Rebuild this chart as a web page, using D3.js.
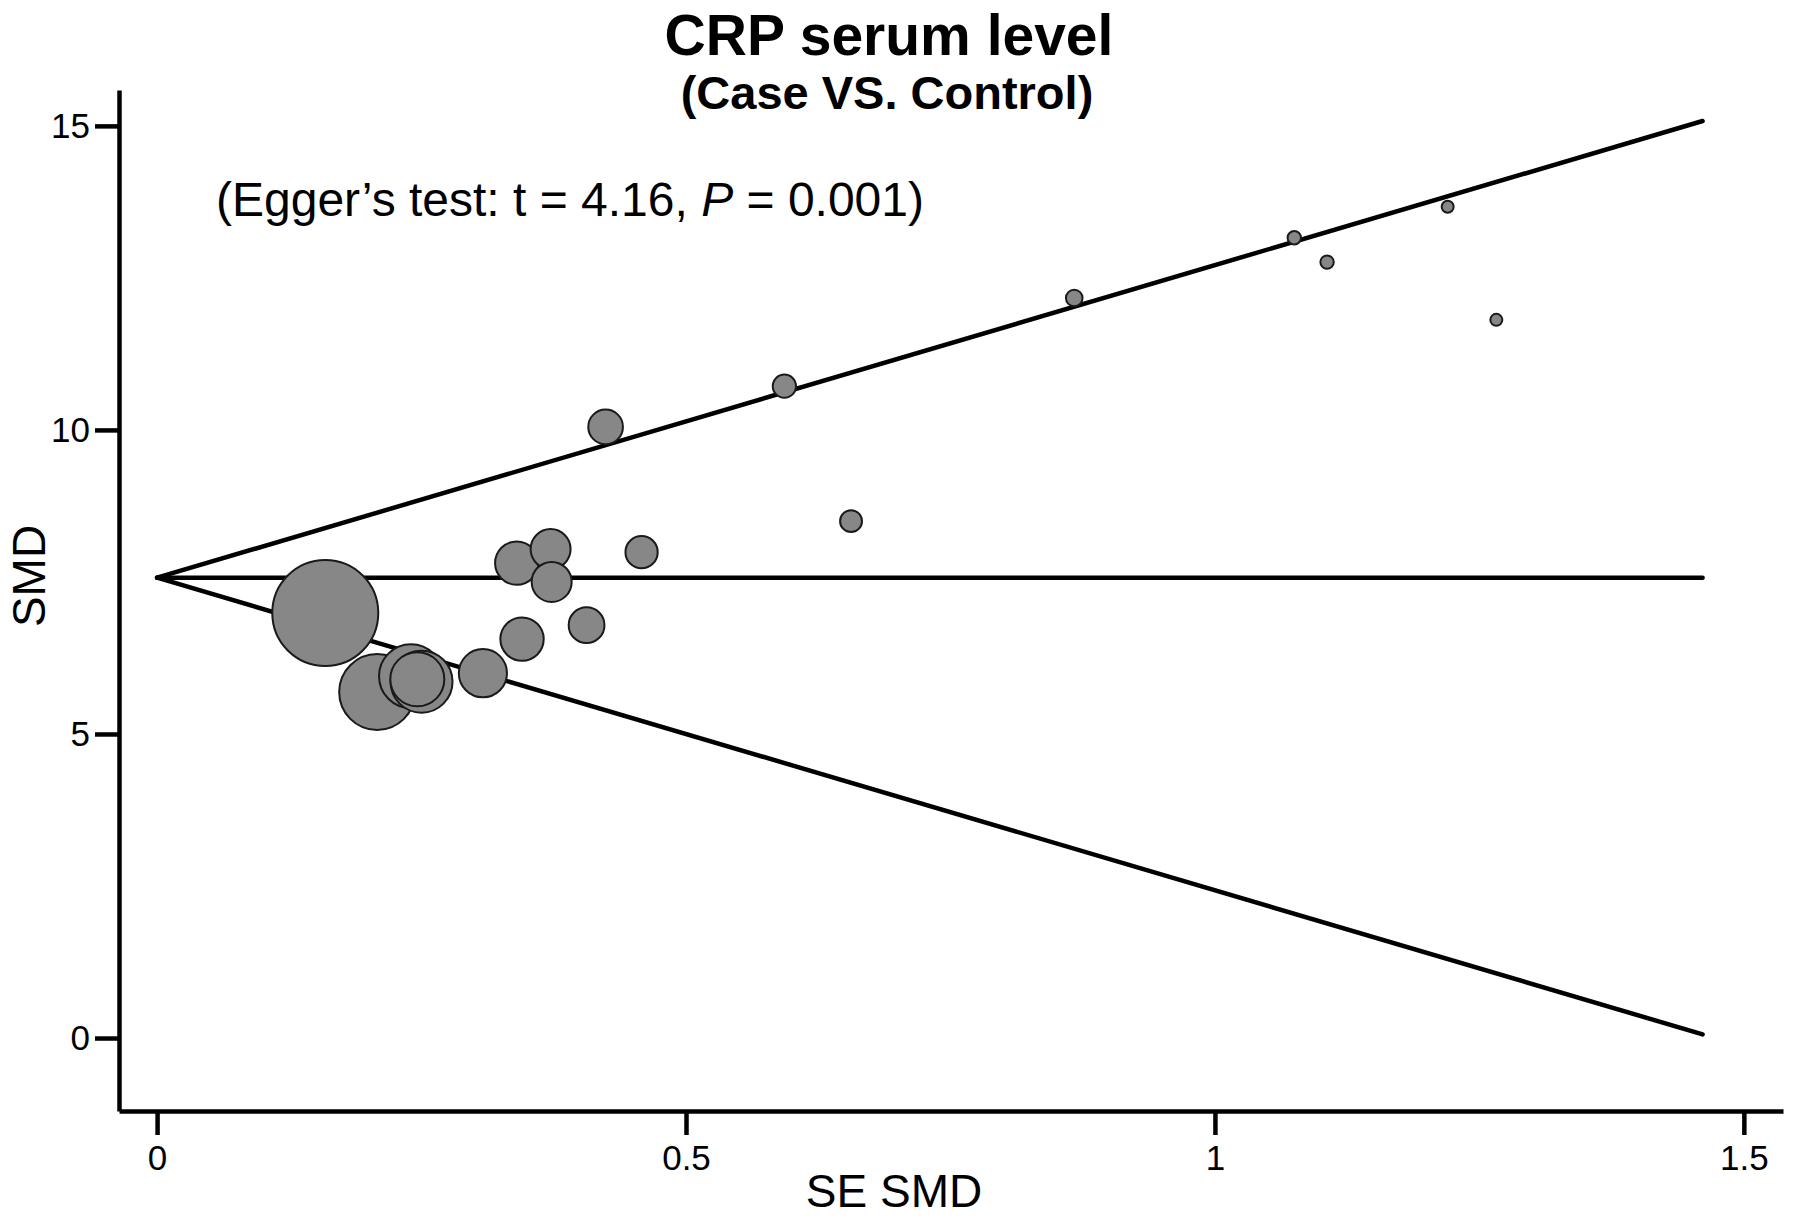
<!DOCTYPE html>
<html>
<head>
<meta charset="utf-8">
<script src="https://cdnjs.cloudflare.com/ajax/libs/d3/7.8.5/d3.min.js"></script>
<style>
  body { margin: 0; background: #fff; }
  text { font-family: "Liberation Sans", Arial, Helvetica, sans-serif; }
</style>
</head>
<body>
<div id="chart"></div>
<script>
// study estimates
var seSMD = [0.159, 0.208, 0.240, 0.246, 0.250, 0.308, 0.340, 0.345, 0.372, 0.373,
             0.406, 0.424, 0.458, 0.593, 0.656, 0.867, 1.075, 1.106, 1.220, 1.266];
var smd = [6.99, 5.69, 5.95, 5.90, 5.86, 6.00, 7.81, 6.56, 8.04, 7.50,
           6.79, 10.05, 7.99, 10.72, 8.50, 12.17, 13.16, 12.76, 13.67, 11.81];
var weight = [281, 144, 102, 73, 96, 58, 47, 47, 40, 40,
              32, 30, 26, 13.5, 12, 6.9, 4.5, 4.5, 3.6, 3.6];

// funnel (pooled estimate and limits)
var funnelSE = [0, 1.461];
var funnelMid = [7.57, 7.57];
var funnelUpper = [7.57, 15.08];
var funnelLower = [7.57, 0.06];

var xTicks = [0, 0.5, 1, 1.5];
var yTicks = [0, 5, 10, 15];

var width = 1795;
var height = 1219;

var svg = d3.select("#chart")
  .append("svg")
  .attr("width", width)
  .attr("height", height);

var xScale = d3.scaleLinear()
  .domain([-0.036, 1.537])
  .range([119, 1783]);

var yScale = d3.scaleLinear()
  .domain([-1.2, 15.59])
  .range([1111, 90]);

var rScale = d3.scaleSqrt()
  .domain([0, d3.max(weight)])
  .range([0, 53]);

// axes
var xAxis = d3.axisBottom(xScale)
  .tickValues(xTicks)
  .tickSize(24)
  .tickSizeOuter(0)
  .tickPadding(10)
  .tickFormat(d3.format(""));

var yAxis = d3.axisLeft(yScale)
  .tickValues(yTicks)
  .tickSize(24)
  .tickSizeOuter(0)
  .tickPadding(5)
  .tickFormat(d3.format("d"));

var xAxisG = svg.append("g")
  .attr("id", "x-axis")
  .attr("transform", "translate(0," + yScale.range()[0] + ")")
  .call(xAxis);

var yAxisG = svg.append("g")
  .attr("id", "y-axis")
  .attr("transform", "translate(" + xScale.range()[0] + ",0)")
  .call(yAxis);

[xAxisG, yAxisG].forEach(function (g) {
  g.select(".domain").attr("stroke", "#000").attr("stroke-width", 4.5);
  g.selectAll(".tick line").attr("stroke", "#000").attr("stroke-width", 4.5);
  g.selectAll(".tick text")
    .attr("fill", "#000")
    .style("font-size", "35px")
    .style("font-family", "'Liberation Sans', Arial, sans-serif");
});

// funnel lines
var line = d3.line()
  .x(function (d) { return xScale(d[0]); })
  .y(function (d) { return yScale(d[1]); });

[funnelMid, funnelUpper, funnelLower].forEach(function (ys) {
  svg.append("path")
    .datum(d3.zip(funnelSE, ys))
    .attr("d", line)
    .attr("fill", "none")
    .attr("stroke", "#000")
    .attr("stroke-width", 4.5)
    .attr("stroke-linecap", "round");
});

// studies, largest drawn first
var studies = seSMD.map(function (se, i) {
  return { se: se, smd: smd[i], w: weight[i] };
}).sort(function (a, b) { return b.w - a.w; });

svg.selectAll("circle.study")
  .data(studies)
  .enter()
  .append("circle")
  .attr("class", "study")
  .attr("cx", function (d) { return xScale(d.se); })
  .attr("cy", function (d) { return yScale(d.smd); })
  .attr("r", function (d) { return rScale(d.w); })
  .attr("fill", "#878787")
  .attr("stroke", "#1a1a1a")
  .attr("stroke-width", 2);

// titles and labels
svg.append("text")
  .attr("x", 889)
  .attr("y", 55)
  .attr("text-anchor", "middle")
  .style("font-size", "57px")
  .style("font-weight", "bold")
  .text("CRP serum level");

svg.append("text")
  .attr("x", 887)
  .attr("y", 109)
  .attr("text-anchor", "middle")
  .style("font-size", "47px")
  .style("font-weight", "bold")
  .text("(Case VS. Control)");

var egger = svg.append("text")
  .attr("x", 216)
  .attr("y", 216)
  .style("font-size", "48px");
egger.append("tspan").text("(Egger\u2019s test: t = 4.16, ");
egger.append("tspan").style("font-style", "italic").text("P");
egger.append("tspan").text(" = 0.001)");

svg.append("text")
  .attr("x", 894)
  .attr("y", 1207)
  .attr("text-anchor", "middle")
  .style("font-size", "46px")
  .text("SE SMD");

svg.append("text")
  .attr("transform", "translate(45,576) rotate(-90)")
  .attr("text-anchor", "middle")
  .style("font-size", "46px")
  .text("SMD");
</script>
</body>
</html>
